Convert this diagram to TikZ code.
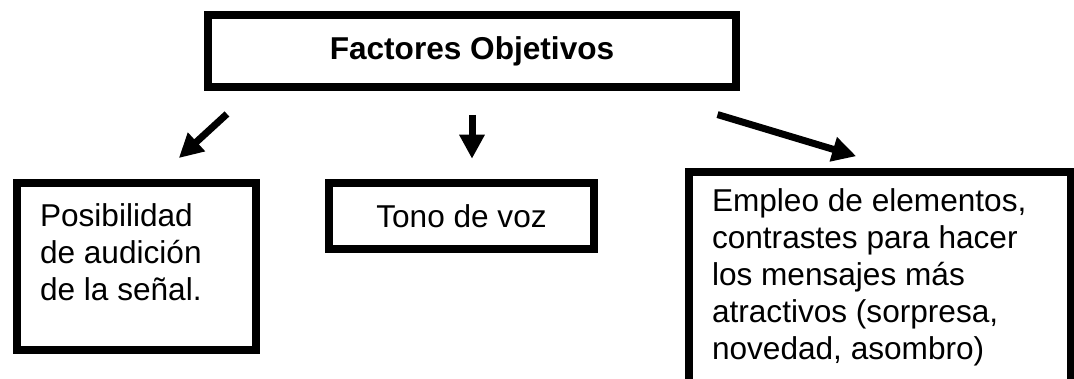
\documentclass[tikz,border=0pt]{standalone}
\usepackage{fontspec}
\setmainfont{Liberation Sans}
\usetikzlibrary{arrows.meta,positioning}

\newcommand{\boxtext}[4]{%
  \parbox[c][#2][t]{#1}{\raggedright\leftskip=23pt\vspace*{#3}\strut #4}}

\begin{document}
\begin{tikzpicture}[
      x=1pt, y=-1pt,
      every node/.style={font=\fontsize{31.6pt}{37pt}\selectfont},
      box/.style={
        draw,
        line width=8pt,
        inner sep=0pt
      },
      arrow/.style={
        line width=7pt,
        -{Triangle[length=24pt,width=24pt]}
      }
    ]
    \useasboundingbox (0,0) rectangle (1074,379);
    \clip (0,0) rectangle (1074,379);

    \node[box, minimum width=528pt, minimum height=72pt]
      (Factores) at (472,51)
      {\bfseries Factores Objetivos};

    \node[box]
      (Posibilidad) at (136.5,266.5)
      {\boxtext{239pt}{167pt}{18pt}{Posibilidad\\
      de audición\\
      de la señal.}};

    \node[box, minimum width=265pt, minimum height=66.5pt]
      (Tono) at (461.5,216)
      {Tono de voz};

    \node[box]
      (Empleo) at (880,296)
      {\boxtext{382pt}{248pt}{14pt}{Empleo de elementos,\\
      contrastes para hacer\\
      los mensajes más\\
      atractivos (sorpresa,\\
      novedad, asombro)}};

    \draw[arrow, shorten <=34pt, shorten >=31pt]
      ([xshift=48pt]Factores.south west) -- ([xshift=143pt]Posibilidad.north west);
    \draw[arrow, shorten <=24pt, shorten >=20pt]
      (Factores.south) -- (Factores.south |- Tono.north);
    \draw[arrow, shorten <=82pt, shorten >=41pt]
      ([xshift=-101pt]Factores.south east) -- ([xshift=210.5pt]Empleo.north west);
  \end{tikzpicture}
\end{document}
